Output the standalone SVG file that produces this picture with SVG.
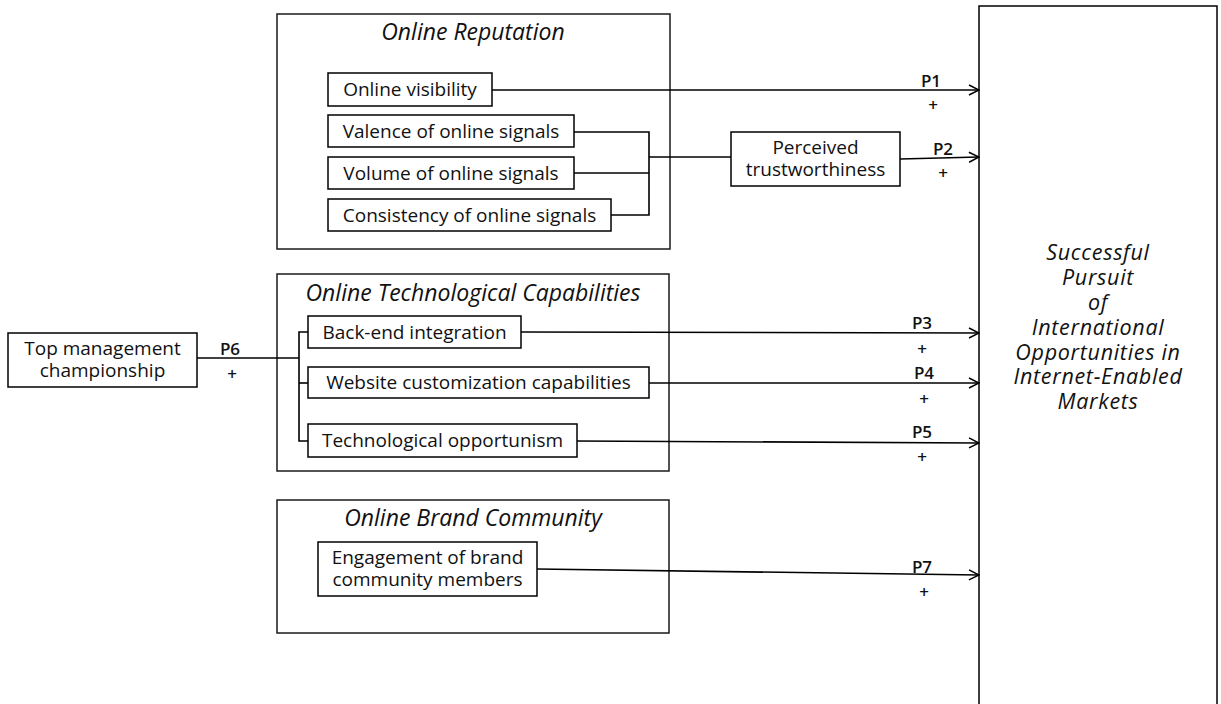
<svg xmlns="http://www.w3.org/2000/svg" width="1221" height="704" viewBox="0 0 1221 704">
<style>
  .box{fill:#fff;stroke:#000;stroke-width:1.5}
  .grp{fill:none;stroke:#1a1a1a;stroke-width:1.5}
  .t{font-family:"Open Sans","Noto Sans",sans-serif;font-size:19px;fill:#111;text-anchor:middle}
  .ti{font-family:"Open Sans","Noto Sans",sans-serif;font-size:23px;font-style:italic;fill:#111;text-anchor:middle}
  .to{font-family:"Open Sans","Noto Sans",sans-serif;font-size:21.5px;letter-spacing:0.7px;font-style:italic;fill:#111;text-anchor:middle}
  .lb{font-family:"Open Sans","Noto Sans",sans-serif;font-size:17px;font-weight:600;fill:#111;text-anchor:middle}
  .ln{fill:none;stroke:#000;stroke-width:1.6}
</style>
<defs>
  <marker id="arr" viewBox="0 0 12 12" refX="11" refY="6" markerWidth="12" markerHeight="12" markerUnits="userSpaceOnUse" orient="auto">
    <path d="M1,1 L11,6 L1,11" fill="none" stroke="#000" stroke-width="1.5"/>
  </marker>
</defs>
<rect width="1221" height="704" fill="#fff"/>

<g id="outcome">
  <rect class="box" x="979" y="6" width="238" height="710"/>
  <text class="to"><tspan x="1098" y="260">Successful</tspan><tspan x="1098" y="285">Pursuit</tspan><tspan x="1098" y="310">of</tspan><tspan x="1098" y="335">International</tspan><tspan x="1098" y="360">Opportunities in</tspan><tspan x="1098" y="384">Internet-Enabled</tspan><tspan x="1098" y="409">Markets</tspan></text>
</g>

<g id="online-reputation">
  <rect class="grp" x="277" y="14" width="393" height="235"/>
  <text class="ti" x="473" y="40">Online Reputation</text>
</g>
<g id="online-visibility">
  <rect class="box" x="328" y="73" width="164" height="33"/>
  <text class="t" x="410" y="96">Online visibility</text>
</g>
<g id="valence">
  <rect class="box" x="328" y="115" width="246" height="32"/>
  <text class="t" x="451" y="138">Valence of online signals</text>
</g>
<g id="volume">
  <rect class="box" x="328" y="157" width="246" height="32"/>
  <text class="t" x="451" y="180">Volume of online signals</text>
</g>
<g id="consistency">
  <rect class="box" x="328" y="199" width="283" height="32"/>
  <text class="t" x="469.5" y="222">Consistency of online signals</text>
</g>
<g id="perceived-trustworthiness">
  <rect class="box" x="731" y="132" width="169" height="54"/>
  <text class="t"><tspan x="815.5" y="154">Perceived</tspan><tspan x="815.5" y="176">trustworthiness</tspan></text>
</g>

<g id="online-tech">
  <rect class="grp" x="277" y="274" width="392" height="197"/>
  <text class="ti" x="473" y="301">Online Technological Capabilities</text>
</g>
<g id="back-end">
  <rect class="box" x="308" y="316" width="213" height="32"/>
  <text class="t" x="414.5" y="339">Back-end integration</text>
</g>
<g id="website">
  <rect class="box" x="308" y="367" width="341" height="31"/>
  <text class="t" x="478.5" y="389">Website customization capabilities</text>
</g>
<g id="tech-opportunism">
  <rect class="box" x="308" y="424" width="269" height="33"/>
  <text class="t" x="442.5" y="447">Technological opportunism</text>
</g>

<g id="top-management">
  <rect class="box" x="8" y="333" width="189" height="54"/>
  <text class="t"><tspan x="102.5" y="355">Top management</tspan><tspan x="102.5" y="377">championship</tspan></text>
</g>

<g id="online-brand-community">
  <rect class="grp" x="277" y="500" width="392" height="133"/>
  <text class="ti" x="473" y="526">Online Brand Community</text>
</g>
<g id="engagement">
  <rect class="box" x="318" y="542" width="219" height="54"/>
  <text class="t"><tspan x="427.5" y="564">Engagement of brand</tspan><tspan x="427.5" y="586">community members</tspan></text>
</g>

<g id="connectors">
  <line class="ln" x1="492" y1="90" x2="979" y2="90" marker-end="url(#arr)"/>
  <polyline class="ln" points="574,132 649,132 649,215 611,215"/>
  <line class="ln" x1="574" y1="173" x2="649" y2="173"/>
  <line class="ln" x1="649" y1="157" x2="731" y2="157"/>
  <line class="ln" x1="900" y1="159" x2="979" y2="157" marker-end="url(#arr)"/>
  <line class="ln" x1="197" y1="358" x2="299" y2="358"/>
  <polyline class="ln" points="308,332 299,332 299,441 308,441"/>
  <line class="ln" x1="299" y1="383" x2="308" y2="383"/>
  <line class="ln" x1="521" y1="332" x2="979" y2="333" marker-end="url(#arr)"/>
  <line class="ln" x1="649" y1="383" x2="979" y2="383" marker-end="url(#arr)"/>
  <line class="ln" x1="577" y1="441" x2="979" y2="443" marker-end="url(#arr)"/>
  <line class="ln" x1="537" y1="569" x2="979" y2="575" marker-end="url(#arr)"/>
  <text class="lb" x="931" y="87">P1</text><text class="lb" x="933" y="111">+</text>
  <text class="lb" x="943" y="155">P2</text><text class="lb" x="943" y="179">+</text>
  <text class="lb" x="922" y="329">P3</text><text class="lb" x="922" y="355">+</text>
  <text class="lb" x="924" y="379">P4</text><text class="lb" x="924" y="405">+</text>
  <text class="lb" x="922" y="438">P5</text><text class="lb" x="922" y="463">+</text>
  <text class="lb" x="230" y="355">P6</text><text class="lb" x="232" y="380">+</text>
  <text class="lb" x="922" y="573">P7</text><text class="lb" x="924" y="598">+</text>
</g>
</svg>
